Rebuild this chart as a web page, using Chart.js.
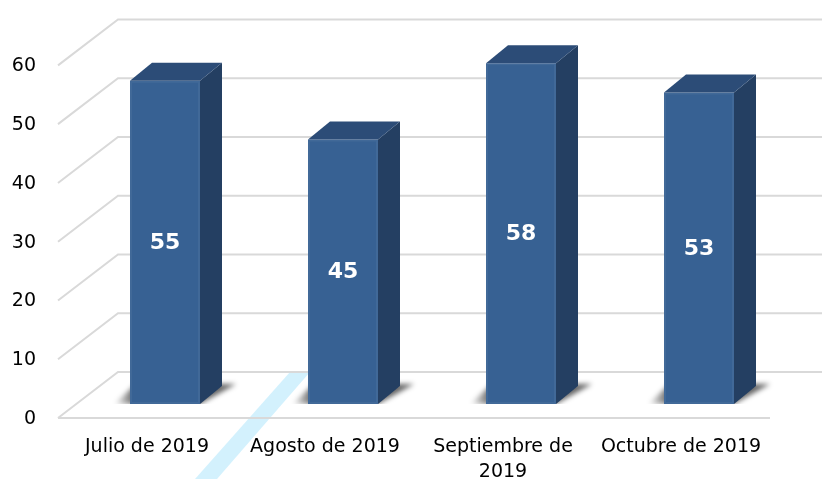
<!DOCTYPE html>
<html>
<head>
<meta charset="utf-8">
<script src="https://cdn.jsdelivr.net/npm/chart.js@4/dist/chart.umd.min.js"></script>
<style>
  html, body { margin: 0; padding: 0; background: #ffffff; }
  #wrap { width: 822px; height: 479px; position: relative; }
</style>
</head>
<body>
<div id="wrap"><canvas id="c"></canvas></div>
<script>
// ---- data ----
const categories = ['Julio de 2019', 'Agosto de 2019', ['Septiembre de', '2019'], 'Octubre de 2019'];
const values = [55, 45, 58, 53];
const yMin = 0, yMax = 60, yStep = 10;

// ---- style ----
const FRONT = { dx: -18, dy: 14 };   // front edge of floor relative to bar plane
const BACK  = { dx: 42, dy: -32 };   // back wall relative to bar plane
const DEPTH = { dx: 22, dy: -18 };   // bar depth
const COL_FRONT = '#376193', COL_SIDE = '#243f62', COL_TOP = '#2c4c77';
const GRID = '#d9d9d9';
const FONT = 'DejaVu Sans';

const threeD = {
  id: 'threeD',
  beforeDatasetsDraw(chart) {
    const { ctx, chartArea: a, scales: { y } } = chart;
    ctx.save();
    // light cyan background stripe (image artifact)
    ctx.fillStyle = 'rgba(200,238,252,0.8)';
    ctx.beginPath();
    ctx.moveTo(195, chart.height); ctx.lineTo(217, chart.height);
    ctx.lineTo(310, 372); ctx.lineTo(290, 372); ctx.closePath(); ctx.fill();

    // walls / grid
    ctx.strokeStyle = GRID; ctx.lineWidth = 2;
    y.ticks.forEach(t => {
      const py = y.getPixelForValue(t.value);
      ctx.beginPath();
      ctx.moveTo(a.left + FRONT.dx, py + FRONT.dy);
      ctx.lineTo(a.left + BACK.dx, py + BACK.dy);
      ctx.lineTo(chart.width, py + BACK.dy);
      ctx.stroke();
    });
    const p0 = y.getPixelForValue(yMin);
    ctx.beginPath();
    ctx.moveTo(a.left + FRONT.dx, p0 + FRONT.dy);
    ctx.lineTo(a.right + FRONT.dx, p0 + FRONT.dy);
    ctx.stroke();

    // floor shadows
    const meta = chart.getDatasetMeta(0);
    meta.data.forEach(bar => {
      const L = bar.x - bar.width / 2, R = bar.x + bar.width / 2, B = bar.base;
      ctx.save();
      ctx.beginPath();
      ctx.rect(0, 0, chart.width, B);
      ctx.clip();
      ctx.filter = 'blur(2.5px)';
      const g = ctx.createLinearGradient(L - 16, 0, L + 4, 0);
      g.addColorStop(0, 'rgba(0,0,0,0)');
      g.addColorStop(1, 'rgba(0,0,0,0.6)');
      ctx.fillStyle = g;
      ctx.beginPath();
      ctx.moveTo(L - 16, B);
      ctx.lineTo(R, B);
      ctx.lineTo(R + DEPTH.dx + 14, B + DEPTH.dy - 2);
      ctx.lineTo(L + DEPTH.dx - 16, B + DEPTH.dy - 2);
      ctx.closePath();
      ctx.fill();
      ctx.restore();
    });
    ctx.restore();
  },
  afterDatasetsDraw(chart) {
    const { ctx } = chart;
    const meta = chart.getDatasetMeta(0);
    ctx.save();
    meta.data.forEach((bar, i) => {
      const L = bar.x - bar.width / 2, R = bar.x + bar.width / 2, T = bar.y, B = bar.base;
      // side
      ctx.fillStyle = COL_SIDE;
      ctx.beginPath();
      ctx.moveTo(R, T); ctx.lineTo(R + DEPTH.dx, T + DEPTH.dy);
      ctx.lineTo(R + DEPTH.dx, B + DEPTH.dy); ctx.lineTo(R, B); ctx.closePath(); ctx.fill();
      // top
      ctx.fillStyle = COL_TOP;
      ctx.beginPath();
      ctx.moveTo(L, T); ctx.lineTo(L + DEPTH.dx, T + DEPTH.dy);
      ctx.lineTo(R + DEPTH.dx, T + DEPTH.dy); ctx.lineTo(R, T); ctx.closePath(); ctx.fill();
      // subtle bevel on front
      ctx.strokeStyle = 'rgba(255,255,255,0.05)'; ctx.lineWidth = 2;
      ctx.strokeRect(L + 1, T + 1, bar.width - 2, B - T - 2);
      // value label
      ctx.fillStyle = '#ffffff';
      ctx.font = 'bold 22px "' + FONT + '"';
      ctx.textAlign = 'center'; ctx.textBaseline = 'middle';
      ctx.fillText(String(values[i]), bar.x, (T + B) / 2 + 1);
    });
    ctx.restore();
  }
};

new Chart(document.getElementById('c'), {
  type: 'bar',
  data: {
    labels: categories,
    datasets: [{
      data: values,
      backgroundColor: COL_FRONT,
      borderWidth: 0,
      barPercentage: 70 / 178,
      categoryPercentage: 1
    }]
  },
  options: {
    responsive: true,
    maintainAspectRatio: false,
    animation: false,
    events: [],
    layout: { padding: { top: 46, right: 34, left: 0, bottom: 0 } },
    plugins: { legend: { display: false }, tooltip: { enabled: false } },
    scales: {
      x: {
        grid: { display: false, drawTicks: false },
        border: { display: false },
        afterFit(s) { s.height = 75; },
        ticks: {
          autoSkip: false, maxRotation: 0, minRotation: 0,
          padding: 31, labelOffset: FRONT.dx,
          color: '#000000',
          font: { family: FONT, size: 19, lineHeight: 1.3 }
        }
      },
      y: {
        min: yMin, max: yMax,
        grid: { display: false, drawTicks: false },
        border: { display: false },
        afterFit(s) { s.width = 76; },
        ticks: {
          stepSize: yStep, padding: 40, labelOffset: FRONT.dy + 1,
          color: '#000000',
          font: { family: FONT, size: 19 }
        }
      }
    }
  },
  plugins: [threeD]
});
</script>
</body>
</html>
